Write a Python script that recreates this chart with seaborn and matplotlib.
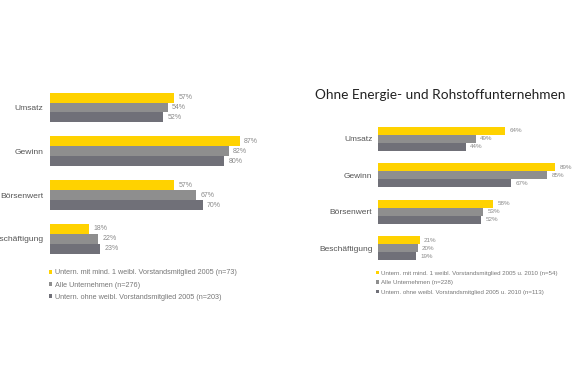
import matplotlib
matplotlib.use("Agg")
import matplotlib.pyplot as plt
import seaborn as sns
import pandas as pd

categories = ["Umsatz", "Gewinn", "Börsenwert", "Beschäftigung"]

left_series = [
    "Untern. mit mind. 1 weibl. Vorstandsmitglied 2005 (n=73)",
    "Alle Unternehmen (n=276)",
    "Untern. ohne weibl. Vorstandsmitglied 2005 (n=203)",
]
left_mit = [57, 87, 57, 18]
left_alle = [54, 82, 67, 22]
left_ohne = [52, 80, 70, 23]

right_series = [
    "Untern. mit mind. 1 weibl. Vorstandsmitglied 2005 u. 2010 (n=54)",
    "Alle Unternehmen (n=228)",
    "Untern. ohne weibl. Vorstandsmitglied 2005 u. 2010 (n=113)",
]
right_mit = [64, 89, 58, 21]
right_alle = [49, 85, 53, 20]
right_ohne = [44, 67, 52, 19]

right_title = "Ohne Energie- und Rohstoffunternehmen"

colors = ["#FFD200", "#8E8E8E", "#707078"]

sns.set_theme(style="white")
plt.rcParams["font.family"] = ["Liberation Sans", "DejaVu Sans"]

W, H = 575, 383
fig = plt.figure(figsize=(W / 100, H / 100), dpi=100)


def make_df(series, vals):
    rows = []
    for s, v in zip(series, vals):
        for c, x in zip(categories, v):
            rows.append({"Kategorie": c, "Serie": s, "Wert": x})
    return pd.DataFrame(rows)


def px_axes(left, top, width, height):
    return fig.add_axes([left / W, 1 - (top + height) / H, width / W, height / H])


def draw(ax, df, series, width, label_fs, val_fs, pad_lbl):
    sns.barplot(data=df, y="Kategorie", x="Wert", hue="Serie", hue_order=series,
                order=categories, palette=colors, orient="h", width=width,
                ax=ax, saturation=1, edgecolor="none", linewidth=0)
    for cont in ax.containers:
        ax.bar_label(cont, fmt="%d%%", padding=3, fontsize=val_fs, color="#8a8a8a")
    ax.set_xlim(0, 100)
    ax.set_ylim(3.5, -0.5)
    ax.set_xlabel("")
    ax.set_ylabel("")
    ax.set_xticks([])
    for s in ax.spines.values():
        s.set_visible(False)
    ax.tick_params(axis="y", length=0, pad=pad_lbl, labelsize=label_fs, labelcolor="#555555")
    handles, labels = ax.get_legend_handles_labels()
    ax.get_legend().remove()
    return handles, labels


# Left panel
axL = px_axes(50, 85.6, 218, 175.2)
dfL = make_df(left_series, [left_mit, left_alle, left_ohne])
hL, lL = draw(axL, dfL, left_series, 0.68, 6.1, 5.0, 5)
fig.legend(hL, lL, loc="upper left", bbox_to_anchor=(49 / W, 1 - 269.5 / H),
           frameon=False, fontsize=5.2, handlelength=0.45, handleheight=0.45,
           handletextpad=0.35, labelspacing=0.7, borderpad=0, borderaxespad=0,
           labelcolor="#777777")

# Right panel
axR = px_axes(378, 120.3, 199, 146)
dfR = make_df(right_series, [right_mit, right_alle, right_ohne])
hR, lR = draw(axR, dfR, right_series, 0.66, 6.0, 4.5, 4)
fig.legend(hR, lR, loc="upper left", bbox_to_anchor=(376 / W, 1 - 270.5 / H),
           frameon=False, fontsize=4.4, handlelength=0.45, handleheight=0.45,
           handletextpad=0.35, labelspacing=0.75, borderpad=0, borderaxespad=0,
           labelcolor="#777777")

fig.text(315 / W, 1 - 95 / H, right_title, fontsize=9.8, family=["Lato", "DejaVu Sans"],
         color="#222222", va="center", ha="left")

fig.savefig("out.png", dpi=100, facecolor="white")
